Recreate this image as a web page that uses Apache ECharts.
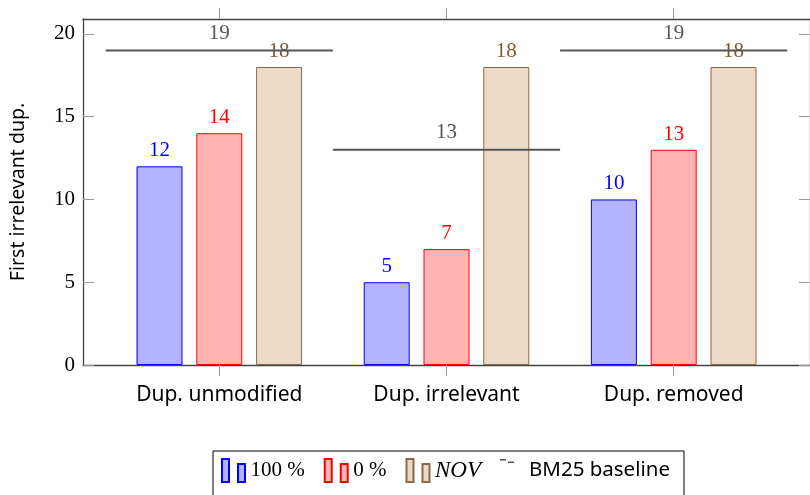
<!DOCTYPE html>
<html>
<head>
<meta charset="utf-8">
<script src="https://cdn.jsdelivr.net/npm/echarts@6/dist/echarts.min.js"></script>
<style>
  html, body { margin: 0; padding: 0; background: #fff; }
  #main { width: 810px; height: 495px; }
</style>
</head>
<body>
<div id="main"></div>
<script>
// data
var categories = ['Dup. unmodified', 'Dup. irrelevant', 'Dup. removed'];
var full = [12, 5, 10];      // 100 %
var zero = [14, 7, 13];      // 0 %
var nov = [18, 18, 18];      // NOV
var bm25 = [19, 13, 19];     // BM25 baseline
var yTicks = [0, 5, 10, 15, 20];
var xTicks = [0, 1, 2];

var serif = 'Liberation Serif';
var sans = 'Noto Sans';

function pairs(arr) {
    return arr.map(function (v, i) { return [i, v]; });
}

function barSeries(name, arr, fill, border, labelColor) {
    return {
        name: name,
        type: 'bar',
        data: pairs(arr),
        barWidth: 46,
        barGap: '30%',
        itemStyle: { color: fill, borderColor: border, borderWidth: 1 },
        label: {
            show: true,
            position: 'top',
            distance: 5,
            color: labelColor,
            fontFamily: serif,
            fontSize: 21,
            formatter: function (p) { return p.value[1]; }
        }
    };
}

var barIcon = 'path://M0,0h7v23h-7zM16,5h7v18h-7z';
var dashIcon = 'path://M0,0h6v1.5h-6zM8,2.5h6v1.5h-6zM23.9,22.9h0.1v0.1h-0.1z';

var option = {
    animation: false,
    backgroundColor: '#fff',
    grid: { left: 83, top: 19, width: 731, height: 346 },
    legend: {
        left: 213,
        top: 451,
        padding: [7, 14, 30, 8],
        borderColor: '#000',
        borderWidth: 1,
        itemWidth: 24,
        itemHeight: 23,
        itemGap: 19,
        data: [
            { name: '100 %', icon: barIcon, textStyle: { fontFamily: serif, fontSize: 21, color: '#000' } },
            { name: '0 %', icon: barIcon, textStyle: { fontFamily: serif, fontSize: 21, color: '#000' } },
            { name: 'NOV', icon: barIcon, textStyle: { fontFamily: serif, fontStyle: 'italic', fontSize: 23, color: '#000' } },
            { name: 'BM25 baseline', icon: dashIcon, textStyle: { fontFamily: sans, fontSize: 20.5, color: '#000' } }
        ]
    },
    xAxis: [
        {
            type: 'value', position: 'bottom', min: -0.6, max: 2.6,
            axisLine: { show: true, onZero: false, lineStyle: { color: '#444', width: 1.3 } },
            axisTick: { show: true, inside: false, length: 11, customValues: xTicks, lineStyle: { color: '#999' } },
            axisLabel: {
                customValues: xTicks, margin: 20, color: '#000', fontFamily: sans, fontSize: 21,
                formatter: function (v) { return categories[Math.round(v)]; }
            },
            splitLine: { show: false }
        },
        {
            type: 'value', position: 'top', min: -0.6, max: 2.6,
            axisLine: { show: true, onZero: false, lineStyle: { color: '#444', width: 1.3 } },
            axisTick: { show: true, inside: false, length: 11, customValues: xTicks, lineStyle: { color: '#999' } },
            axisLabel: { show: false },
            splitLine: { show: false }
        }
    ],
    yAxis: [
        {
            type: 'value', position: 'left', min: 0, max: 20.9,
            name: 'First irrelevant dup.',
            nameLocation: 'middle',
            nameGap: 55,
            nameTextStyle: { fontFamily: sans, fontSize: 19.5, color: '#000' },
            axisLine: { show: true, onZero: false, lineStyle: { color: '#444', width: 1.3 } },
            axisTick: { show: true, inside: true, length: 11, customValues: yTicks, lineStyle: { color: '#999' } },
            axisLabel: { customValues: yTicks, margin: 8, color: '#000', fontFamily: serif, fontSize: 21 },
            splitLine: { show: false }
        },
        {
            type: 'value', position: 'right', min: 0, max: 20.9,
            axisLine: { show: true, onZero: false, lineStyle: { color: '#444', width: 1.3 } },
            axisTick: { show: true, inside: true, length: 11, customValues: yTicks, lineStyle: { color: '#999' } },
            axisLabel: { show: false },
            splitLine: { show: false }
        }
    ],
    series: [
        barSeries('100 %', full, '#b3b3ff', '#0000ff', '#0000ff'),
        barSeries('0 %', zero, '#ffb3b3', '#ff0000', '#ff0000'),
        barSeries('NOV', nov, '#ecdac6', '#8a6a48', '#7d5a34'),
        {
            name: 'BM25 baseline',
            type: 'custom',
            itemStyle: { color: '#555' },
            data: pairs(bm25),
            z: 3,
            renderItem: function (params, api) {
                var i = api.value(0), v = api.value(1);
                var a = api.coord([i - 0.5, v]);
                var b = api.coord([i + 0.5, v]);
                var c = api.coord([i, v]);
                return {
                    type: 'group',
                    children: [
                        { type: 'line', shape: { x1: a[0], y1: a[1], x2: b[0], y2: b[1] },
                          style: { stroke: '#555', lineWidth: 2 } },
                        { type: 'text', x: c[0], y: c[1] - 17,
                          style: { text: String(v), fill: '#555', font: '21px "Liberation Serif"',
                                   align: 'center', verticalAlign: 'middle' } }
                    ]
                };
            }
        }
    ]
};

var chart = echarts.init(document.getElementById('main'));
chart.setOption(option);
</script>
</body>
</html>
